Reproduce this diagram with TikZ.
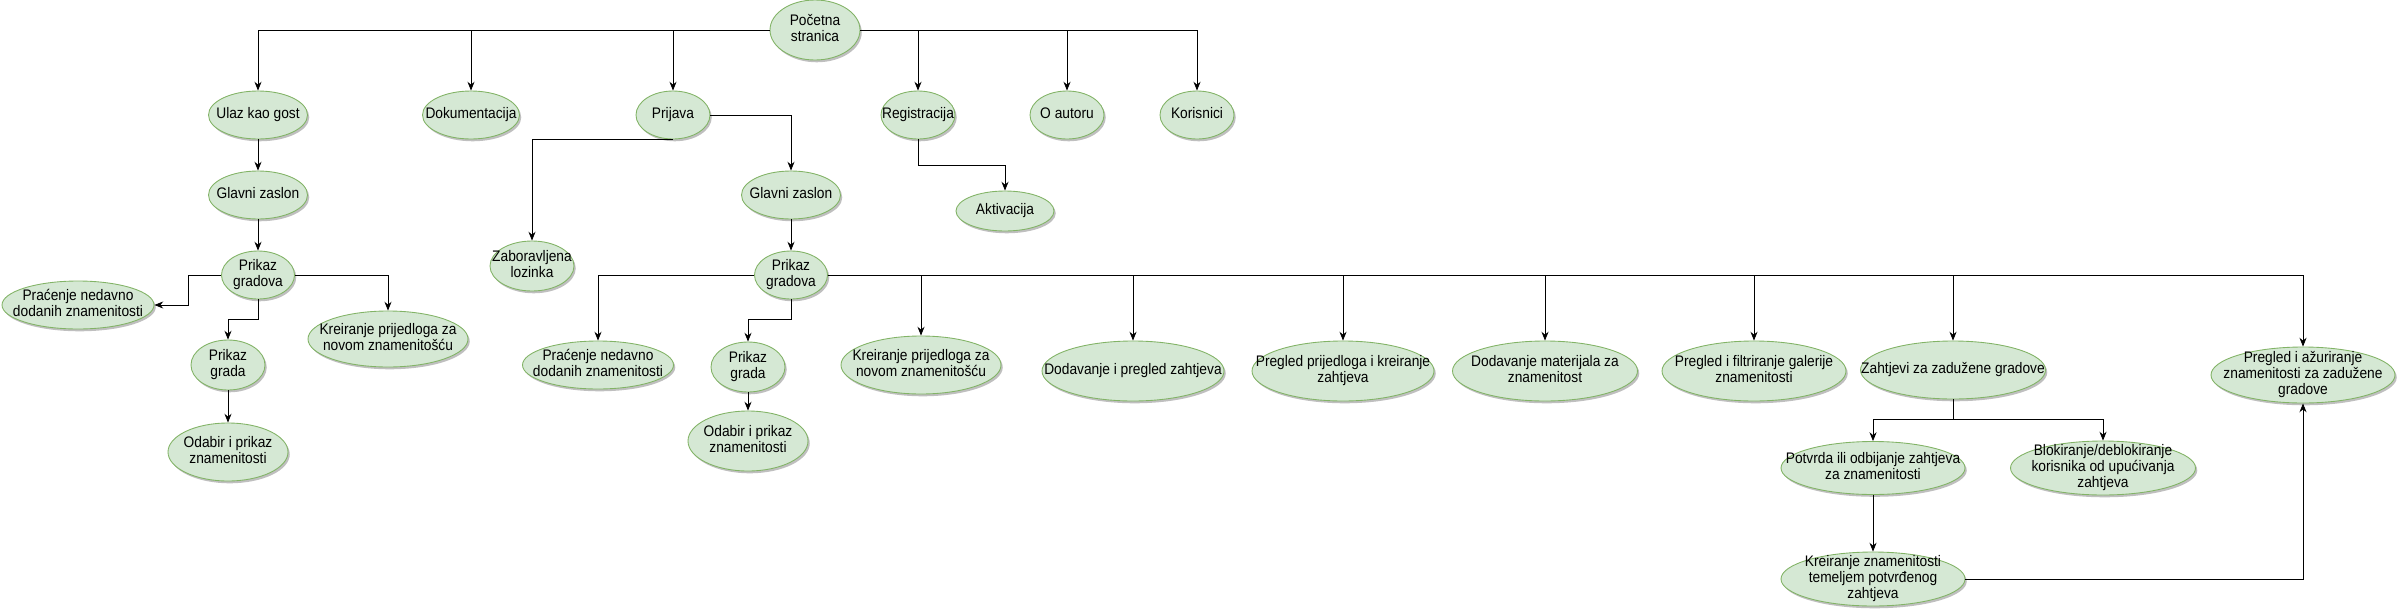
\documentclass[tikz,border=0pt]{standalone}
\usepackage{fontspec}
\setmainfont[FakeStretch=0.9]{Liberation Sans}
\usetikzlibrary{shapes.geometric,arrows.meta,shadows}
\definecolor{zfill}{HTML}{D5E8D4}
\definecolor{zline}{HTML}{82B366}
\newcommand{\zl}[1]{\smash{\makebox[0pt]{\lower2.3pt\hbox{\begin{tabular}{@{}c@{}}#1\end{tabular}}}}}
\begin{document}
\begin{tikzpicture}[x=0.02cm,y=-0.02cm,
    ell/.style 2 args={ellipse,draw=zline,fill=zfill,line width=0.5pt,inner sep=0pt,
        minimum width=#1*0.02cm,minimum height=#2*0.02cm,
        font=\fontsize{8.7}{9}\selectfont,
        drop shadow={shadow xshift=1pt,shadow yshift=-1.3pt,fill=black,opacity=0.25}},
    every path/.style={line width=0.45pt},
    >={Stealth[length=5pt,width=4pt]}]
\useasboundingbox (0,0) rectangle (2398,609);
\node[ell={90}{60}] (root) at (815,30) {\zl{Početna\\stranica}};
\node[ell={99}{48}] (ulaz) at (258,115) {\zl{Ulaz kao gost}};
\node[ell={97}{48}] (dok) at (471,115) {\zl{Dokumentacija}};
\node[ell={74}{48}] (prij) at (673,115) {\zl{Prijava}};
\node[ell={74}{48}] (reg) at (918,115) {\zl{Registracija}};
\node[ell={74}{48}] (aut) at (1067,115) {\zl{O autoru}};
\node[ell={74}{48}] (kor) at (1197,115) {\zl{Korisnici}};
\node[ell={99}{48}] (gz1) at (258,195) {\zl{Glavni zaslon}};
\node[ell={73}{48}] (pg1) at (258,275) {\zl{Prikaz\\gradova}};
\node[ell={152}{48}] (prac1) at (78,305) {\zl{Praćenje nedavno\\dodanih znamenitosti}};
\node[ell={160}{56}] (kreir1) at (388,339) {\zl{Kreiranje prijedloga za\\novom znamenitošću}};
\node[ell={74}{50}] (pgr1) at (228,365) {\zl{Prikaz\\grada}};
\node[ell={120}{58}] (odb1) at (228,452) {\zl{Odabir i prikaz\\znamenitosti}};
\node[ell={84}{50}] (zab) at (532,266) {\zl{Zaboravljena\\lozinka}};
\node[ell={99}{48}] (gz2) at (791,195) {\zl{Glavni zaslon}};
\node[ell={73}{48}] (pg2) at (791,275) {\zl{Prikaz\\gradova}};
\node[ell={151}{48}] (prac2) at (598,365) {\zl{Praćenje nedavno\\dodanih znamenitosti}};
\node[ell={74}{50}] (pgr2) at (748,367) {\zl{Prikaz\\grada}};
\node[ell={120}{60}] (odb2) at (748,441) {\zl{Odabir i prikaz\\znamenitosti}};
\node[ell={98}{40}] (akt) at (1005,211) {\zl{Aktivacija}};
\node[ell={160}{58}] (kreir2) at (921,365) {\zl{Kreiranje prijedloga za\\novom znamenitošću}};
\node[ell={182}{60}] (dod) at (1133,371) {\zl{Dodavanje i pregled zahtjeva}};
\node[ell={182}{60}] (preg) at (1343,371) {\zl{Pregled prijedloga i kreiranje\\zahtjeva}};
\node[ell={185}{60}] (mat) at (1545,371) {\zl{Dodavanje materijala za\\znamenitost}};
\node[ell={184}{60}] (gal) at (1754,371) {\zl{Pregled i filtriranje galerije\\znamenitosti}};
\node[ell={185}{58}] (zaht) at (1953,370) {\zl{Zahtjevi za zadužene gradove}};
\node[ell={184}{56}] (azur) at (2303,375) {\zl{Pregled i ažuriranje\\znamenitosti za zadužene\\gradove}};
\node[ell={184}{53}] (potv) at (1873,468) {\zl{Potvrda ili odbijanje zahtjeva\\za znamenitosti}};
\node[ell={185}{54}] (blok) at (2103,468) {\zl{Blokiranje/deblokiranje\\korisnika od upućivanja\\zahtjeva}};
\node[ell={184}{54}] (kzn) at (1873,579) {\zl{Kreiranje znamenitosti\\temeljem potvrđenog\\zahtjeva}};
\draw [->] (root.west) -| (ulaz);
\draw [->] (root.west) -| (dok);
\draw [->] (root.west) -| (prij);
\draw [->] (root.east) -| (reg);
\draw [->] (root.east) -| (aut);
\draw [->] (root.east) -| (kor);
\draw [->] (ulaz) -- (gz1);
\draw [->] (gz1) -- (pg1);
\draw [->] (pg1.west) -- ++(-33,0) |- (prac1.east);
\draw [->] (pg1.east) -| (kreir1);
\draw [->] (pg1.south) -- ++(0,20) -| (pgr1);
\draw [->] (pgr1) -- (odb1);
\draw [->] (prij.east) -| (gz2);
\draw [->] (prij.south) -| (zab);
\draw [->] (gz2) -- (pg2);
\draw [->] (pg2.west) -| (prac2);
\draw [->] (pg2.south) -- ++(0,20) -| (pgr2);
\draw [->] (pgr2) -- (odb2);
\draw [->] (reg.south) -- ++(0,26) -| (akt);
\draw [->] (pg2.east) -| (kreir2);
\draw [->] (pg2.east) -| (dod);
\draw [->] (pg2.east) -| (preg);
\draw [->] (pg2.east) -| (mat);
\draw [->] (pg2.east) -| (gal);
\draw [->] (pg2.east) -| (zaht);
\draw [->] (pg2.east) -| (azur);
\draw [->] (zaht.south) -- ++(0,20) -| (potv);
\draw [->] (zaht.south) -- ++(0,20) -| (blok);
\draw [->] (potv) -- (kzn);
\draw [->] (kzn.east) -| (azur);
\end{tikzpicture}
\end{document}
